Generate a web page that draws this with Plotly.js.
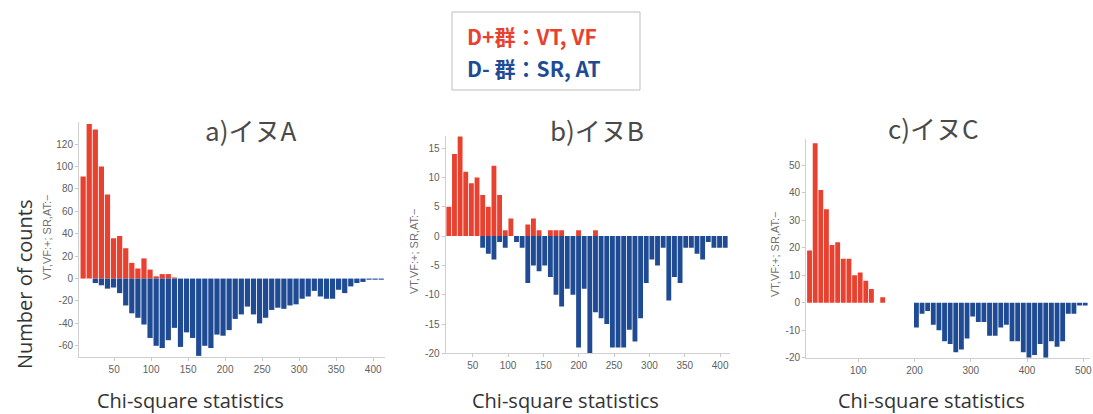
<!DOCTYPE html>
<html>
<head>
<meta charset="utf-8">
<script src="https://cdn.plot.ly/plotly-3.0.1.min.js"></script>
<style>
  html, body { margin: 0; padding: 0; background: #fff; }
  #chart { width: 1093px; height: 414px; }
</style>
</head>
<body>
<div id="chart"></div>
<script>
// ---- data (counts per chi-square bin) ----
const panelTitles = ["a)イヌA", "b)イヌB", "c)イヌC"];
const yAxisLabel = "VT,VF:+; SR,AT:−";
const xAxisLabel = "Chi-square statistics";
const countLabel = "Number of counts";
const legendPlus = "D+群：VT, VF";
const legendMinus = "D- 群：SR, AT";

// bin layout (first bin centre, bin width)
const binsA = { start: 8.1, width: 8.22 };
const binsB = { start: 16.2, width: 7.98 };
const binsC = { start: 13.4, width: 10.0 };

// dog A
const aPlus  = [91,138,133,100,75,36,38,27,14,9,18,8,2,4,4,1];
const aMinus = [0,0,-4,-6,-9,-8,-13,-24,-31,-35,-41,-53,-60,-62,-55,-44,-61,-48,-53,-69,
                -60,-62,-50,-51,-46,-36,-32,-25,-32,-40,-35,-28,-26,-27,-24,-23,-18,-16,-11,-16,
                -18,-18,-10,-13,-7,-4,-3,-1,-1,-1];
// dog B
const bPlus  = [5,14,17,11,9,10,7,5,12,7,1,3,0,0,2,3,1,0,1,1,1,0,0,1,0,0,1];
const bMinus = [0,0,0,0,0,0,-2,-3,-4,-1,-2,0,-1,-2,-8,-5,-6,-5,-7,-10,
                -12,-9,-10,-19,-9,-20,-13,-14,-15,-19,-19,-19,-16,-18,-14,-8,-4,-5,-2,-11,
                -7,-8,-2,-2,-3,-4,-1,-2,-2,-2];
// dog C
const cPlus  = [19,58,41,34,21,22,16,16,10,11,8,5,0,2];
const cMinus = [0,0,0,0,0,0,0,0,0,0,0,0,0,0,0,0,0,0,0,
                -9,-4,-3,-8,-10,-14,-15,-18,-17,-13,-5,-7,-7,-12,-12,-9,-8,-14,-14,-18,-20,
                -19,-15,-20,-14,-16,-14,-4,-4,-1,-1];

const xTicksAB = [50,100,150,200,250,300,350,400];
const xTicksC = [100,200,300,400,500];
const yTicksA = [-60,-40,-20,0,20,40,60,80,100,120];
const yTicksB = [-20,-15,-10,-5,0,5,10,15];
const yTicksC = [-20,-10,0,10,20,30,40,50];

// ---- styling ----
const RED = "#e8412f";
const BLUE = "#1f4b94";

function barTrace(vals, bins, color, xa, ya) {
  return {
    type: "bar", y: vals, x0: bins.start, dx: bins.width,
    marker: { color: color, line: { width: 0 } },
    xaxis: xa, yaxis: ya, showlegend: false, hoverinfo: "x+y"
  };
}

const data = [
  barTrace(aPlus, binsA, RED, "x", "y"),
  barTrace(aMinus, binsA, BLUE, "x", "y"),
  barTrace(bPlus, binsB, RED, "x2", "y2"),
  barTrace(bMinus, binsB, BLUE, "x2", "y2"),
  barTrace(cPlus, binsC, RED, "x3", "y3"),
  barTrace(cMinus, binsC, BLUE, "x3", "y3")
];

const W = 1093, H = 414;
const px = v => v / W;
const py = v => 1 - v / H;

const tickFont = { family: "Liberation Sans, Arial, sans-serif", size: 10, color: "#606060" };
function xAxis(dom, range, ticks, anchor) {
  return {
    domain: dom, range: range, tickvals: ticks, ticktext: ticks.map(String),
    showgrid: false, zeroline: false, showline: true, linecolor: "#d0d0d0", linewidth: 1,
    ticks: "outside", ticklen: 3, tickcolor: "#c8c8c8", tickfont: tickFont, anchor: anchor
  };
}
function yAxis(dom, range, ticks, anchor) {
  return {
    domain: dom, range: range, tickvals: ticks, ticktext: ticks.map(String),
    showgrid: false, zeroline: false, showline: true, linecolor: "#d0d0d0", linewidth: 1,
    ticks: "outside", ticklen: 3, tickcolor: "#c8c8c8", tickfont: tickFont, anchor: anchor
  };
}

const titleFont = { family: "Noto Sans CJK JP, sans-serif", size: 26, color: "#4a4a4a" };
const smallLabFont = { family: "Liberation Sans, Arial, sans-serif", size: 11, color: "#707070" };
const bigLabFont = { family: "Open Sans, Noto Sans, sans-serif", size: 20, color: "#333" };

function ann(text, x, y, font, extra) {
  return Object.assign({ text: text, x: px(x), y: py(y), xref: "paper", yref: "paper",
    xanchor: "center", yanchor: "middle", showarrow: false, font: font }, extra || {});
}

const annotations = [
  ann(panelTitles[0], 250, 129, titleFont),
  ann(panelTitles[1], 597, 129, titleFont),
  ann(panelTitles[2], 933, 127, titleFont),
  ann(yAxisLabel, 47, 238, smallLabFont, { textangle: -90 }),
  ann(yAxisLabel, 414, 252, smallLabFont, { textangle: -90 }),
  ann(yAxisLabel, 775, 255, smallLabFont, { textangle: -90 }),
  ann(countLabel, 24, 285, bigLabFont, { textangle: -90 }),
  ann(xAxisLabel, 190, 400, bigLabFont),
  ann(xAxisLabel, 565, 400, bigLabFont),
  ann(xAxisLabel, 931, 400, bigLabFont),
  ann("<b>" + legendPlus + "</b>", 465, 36, { family: "Noto Sans CJK JP, sans-serif", size: 21, color: RED }, { xanchor: "left" }),
  ann("<b>" + legendMinus + "</b>", 465, 68, { family: "Noto Sans CJK JP, sans-serif", size: 21, color: BLUE }, { xanchor: "left" })
];

const layout = {
  width: W, height: H,
  margin: { l: 0, r: 0, t: 0, b: 0 },
  paper_bgcolor: "#fff", plot_bgcolor: "#fff",
  barmode: "relative", bargap: 0.14,
  xaxis: xAxis([px(79), px(385)], [2.5, 416], xTicksAB, "y"),
  yaxis: yAxis([py(357), py(121.7)], [-70, 140], yTicksA, "x"),
  xaxis2: xAxis([px(445.5), px(730)], [11.5, 414], xTicksAB, "y2"),
  yaxis2: yAxis([py(353.3), py(135.9)], [-20, 17.1], yTicksB, "x2"),
  xaxis3: xAxis([px(806), px(1090)], [7.1, 512], xTicksC, "y3"),
  yaxis3: yAxis([py(357.7), py(139.1)], [-20, 59.5], yTicksC, "x3"),
  annotations: annotations,
  shapes: [
    { type: "rect", xref: "paper", yref: "paper", x0: px(452), x1: px(640), y0: py(90), y1: py(12),
      line: { color: "#bdbdbd", width: 1 }, fillcolor: "rgba(0,0,0,0)" }
  ]
};

Plotly.newPlot("chart", data, layout, { staticPlot: true, displayModeBar: false });
</script>
</body>
</html>
